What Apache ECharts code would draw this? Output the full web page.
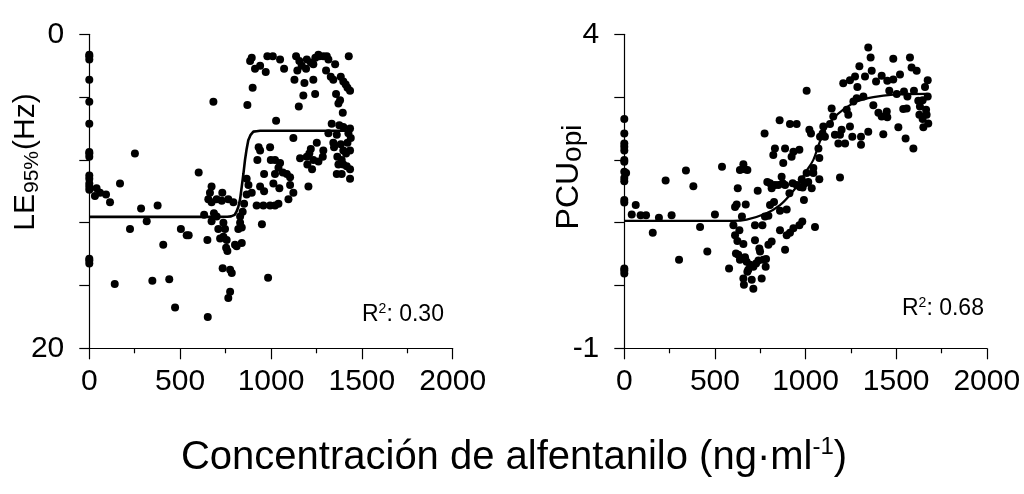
<!DOCTYPE html>
<html><head><meta charset="utf-8">
<script src="https://cdn.jsdelivr.net/npm/echarts@6/dist/echarts.min.js"></script>
<style>html,body{margin:0;padding:0;background:#fff}#c{width:1024px;height:494px}</style>
</head><body><div id="c"></div>
<script>
// ---- tick labels ----
const xTicks = [0, 500, 1000, 1500, 2000];
const leftYLabels = [0, 20];
const rightYLabels = [-1, 4];
const leftR2 = '0.30';
const rightR2 = '0.68';

// ---- left panel: LE95% (Hz) ----
const leftX = [
0,0,0,0,0,0,0,0,0,0,0,0,0,0,0,0,0,
40,31,59,92,114,169,251,140,224,285,316,376,407,347,440,472,504,536,547,602,652,650,683,
673,664,655,673,701,732,729,765,793,686,632,673,701,738,710,747,720,738,756,753,760,734,775,784,775,765,802,811,839,830,839,820,830,844,852,866,876,894,921,958,995,1022,1041,1096,1123,1105,1206,1046,1013,940,962,950,984,
894,885,912,940,971,980,1010,1050,1072,1138,1145,1156,1169,1193,1197,1219,1233,1244,1261,1266,1288,1303,1307,1316,1329,1343,1353,1384,1398,1411,1428,1435,1421,1129,1184,1233,1358,1178,1243,899,870,1153,1380,1371,1395,1028,1334,1376,1316,1362,1398,1435,1426,1439,1421,1384,1343,1347,1123,995,932,940,925,962,999,1022,1050,1041,1065,1087,1105,1160,1197,1211,1219,1252,1233,1200,1226,1261,1285,1288,1365,1389,1398,1417,1435,1435,1389,1362,1398,1435,1413,1371,866,1022
];
const leftY = [
1.3,1.4,1.6,2.9,4.3,5.7,7.5,7.6,7.8,9.0,9.2,9.5,9.7,9.9,14.3,14.4,14.6,
9.8,10.3,10.1,10.2,10.7,9.5,7.6,15.9,12.4,11.1,11.9,10.9,13.4,15.7,15.6,17.4,12.4,12.8,12.8,8.8,18.0,13.1,4.3,
9.7,10.1,10.5,10.7,10.5,10.1,10.6,10.5,10.7,11.4,11.5,11.9,11.6,12.0,12.4,12.4,13.0,12.9,13.1,13.6,13.8,14.9,15.0,15.2,16.4,16.8,13.4,13.5,13.3,11.6,12.3,12.4,12.0,11.3,10.8,10.2,9.6,10.1,10.9,10.9,10.9,10.9,10.8,10.5,10.1,9.6,9.7,9.8,9.5,9.7,10.0,12.1,15.5,
1.5,1.7,2.2,2.0,2.4,1.4,1.4,1.6,2.2,1.4,2.3,1.7,2.0,2.2,1.6,1.8,1.9,1.5,1.3,1.4,1.4,2.3,1.4,1.6,2.7,2.9,1.9,2.7,3.0,3.2,1.4,3.6,3.4,2.9,3.1,2.9,3.8,3.9,3.8,3.4,4.5,4.6,4.2,4.4,5.0,5.5,5.7,5.8,6.3,6.4,5.9,6.0,6.3,6.6,6.9,7.0,6.9,7.2,6.6,7.2,7.2,7.4,8.0,8.9,8.0,8.0,8.2,8.5,8.8,8.9,9.1,7.9,7.8,7.6,7.3,6.9,8.0,8.3,8.6,8.1,7.8,7.4,7.8,8.0,8.3,8.4,8.6,9.2,8.9,8.9,7.4,7.4,7.6,8.3,9.2,8.9
];
const leftFitX = [0, 700, 760, 780, 790, 800, 810, 820, 830, 839, 848, 857, 866, 875, 888, 903, 920, 940, 1000, 1420];
const leftFitY = [11.63, 11.63, 11.62, 11.6, 11.57, 11.5, 11.3, 11.0, 10.5, 9.7, 8.9, 8.0, 7.3, 6.75, 6.4, 6.2, 6.17, 6.14, 6.14, 6.14];

// ---- right panel: PCUopi ----
const rightX = [
0,0,0,0,0,0,0,0,10,0,0,0,0,0,0,0,
63,41,90,120,191,228,261,157,302,340,381,418,458,500,578,611,620,626,670,649,602,635,611,624,657,616,629,638,666,675,694,712,684,727,740,749,745,767,782,780,758,657,679,660,703,712,721,721,762,736,776,795,804,826,859,896,789,804,813,831,850,868,874,887,911,929,951,969,984,997,979,1006,1015,1034,1043,1076,991,982,966,933,914,896,859,813,795,887,1052,1190,657,666,679,638,539,
1346,1359,1297,1328,1365,1245,1273,1208,1286,1319,1389,1420,1451,1484,1484,1521,1576,1585,1613,1462,1503,1543,1562,1598,1622,1646,1659,1674,1674,1631,1628,1646,1668,1650,1677,1665,1539,1558,1512,1552,1595,1429,1374,1402,1420,1448,1451,1346,1306,1306,1282,1264,1227,1236,1245,1199,1190,1162,1181,1218,1258,1144,1153,1135,1098,1094,1107,1080,1071,1076,1043,1006,1021,1030,857,914,951,774,831,887,822,933,923,966,877
];
const rightY = [
2.65,2.42,2.26,2.21,2.15,2.0,1.97,1.81,1.79,1.71,1.66,1.36,1.32,0.27,0.24,0.19,
1.28,1.13,1.12,1.12,1.08,1.67,1.12,0.84,0.41,1.83,1.58,0.93,0.54,1.13,0.27,1.25,1.29,1.55,1.29,1.10,0.96,0.88,0.80,0.71,0.66,0.51,0.49,0.41,0.45,0.38,0.33,0.30,0.25,0.35,0.40,0.54,0.59,0.41,0.42,0.30,0.11,0.11,0.22,0.01,0.09,-0.05,0.72,0.96,0.96,1.51,1.10,1.11,1.28,1.33,1.19,1.21,1.65,1.63,1.55,1.60,1.60,1.73,1.63,1.60,1.47,1.63,1.60,1.57,1.56,1.63,1.69,1.79,1.65,1.55,1.79,1.69,1.36,1.02,0.96,0.91,0.84,0.80,0.88,0.70,0.65,0.57,0.93,1.72,1.93,1.85,1.84,1.84,1.89,
3.79,3.63,3.49,3.33,3.42,3.27,3.33,3.22,3.16,3.01,3.25,3.34,3.26,3.28,3.61,3.36,3.63,3.47,3.42,3.10,3.05,3.09,3.01,3.10,2.94,2.95,3.16,3.27,3.01,2.85,2.72,2.65,2.72,2.52,2.58,2.80,2.81,2.82,2.52,2.34,2.18,2.41,2.87,2.75,2.69,2.77,2.68,2.45,2.37,2.24,2.98,2.93,2.80,2.72,2.53,2.48,2.40,2.40,2.26,2.26,2.37,2.82,2.69,2.57,2.53,2.42,2.37,2.37,2.18,2.03,1.87,3.10,2.48,2.42,2.63,2.57,2.57,2.42,2.18,2.18,2.08,2.13,2.05,2.16,1.95
];
const rightFitX = [0, 600, 675, 785, 859, 914, 969, 997, 1043, 1080, 1116, 1153, 1208, 1282, 1374, 1484, 1668];
const rightFitY = [1.03, 1.03, 1.05, 1.15, 1.28, 1.44, 1.65, 1.79, 2.0, 2.3, 2.52, 2.66, 2.8, 2.93, 3.0, 3.04, 3.05];

// ---- build chart ----
const FONT = '"Liberation Sans", Arial, Helvetica, sans-serif';
const pairs = (xs, ys) => xs.map((x, i) => [x, ys[i]]);
const blk = { color: '#000', width: 1.2 };

function xAxisFor(idx) {
  return {
    gridIndex: idx, type: 'value', min: xTicks[0], max: xTicks[xTicks.length - 1],
    interval: xTicks[1] - xTicks[0],
    axisLine: { show: true, onZero: false, lineStyle: blk },
    axisTick: { show: true, length: 11, lineStyle: blk },
    minorTick: { show: true, splitNumber: 2, length: 5, lineStyle: blk },
    splitLine: { show: false }, minorSplitLine: { show: false },
    axisLabel: { fontSize: 30, color: '#000', fontFamily: FONT, margin: 18,
      formatter: v => (xTicks.indexOf(v) >= 0 ? String(v) : '') }
  };
}
function yAxisFor(idx, labels, interval, inverse) {
  return {
    gridIndex: idx, type: 'value', min: labels[0], max: labels[1], interval: interval, inverse: inverse,
    axisLine: { show: true, onZero: false, lineStyle: blk },
    axisTick: { show: true, length: 10, lineStyle: blk },
    splitLine: { show: false },
    axisLabel: {
      fontSize: 30, color: '#000', fontFamily: FONT, margin: 25, padding: [0, 0, 6, 0],
      formatter: v => (labels.indexOf(v) >= 0 ? String(v) : '')
    }
  };
}

const chart = echarts.init(document.getElementById('c'), null, { renderer: 'canvas' });
chart.setOption({
  animation: false,
  backgroundColor: '#fff',
  grid: [
    { left: 89.3, top: 34.3, width: 363.4, height: 314 },
    { left: 624.3, top: 34.3, width: 362.5, height: 314 }
  ],
  xAxis: [xAxisFor(0), xAxisFor(1)],
  yAxis: [yAxisFor(0, leftYLabels, 4, true), yAxisFor(1, rightYLabels, 1, false)],
  series: [
    { type: 'scatter', xAxisIndex: 0, yAxisIndex: 0, data: pairs(leftX, leftY), symbolSize: 8, itemStyle: { color: '#000', opacity: 1 } },
    { type: 'line', xAxisIndex: 0, yAxisIndex: 0, data: pairs(leftFitX, leftFitY), showSymbol: false, smooth: false, lineStyle: { color: '#000', width: 2.6 }, z: 3 },
    { type: 'scatter', xAxisIndex: 1, yAxisIndex: 1, data: pairs(rightX, rightY), symbolSize: 8, itemStyle: { color: '#000', opacity: 1 } },
    { type: 'line', xAxisIndex: 1, yAxisIndex: 1, data: pairs(rightFitX, rightFitY), showSymbol: false, smooth: 0.3, lineStyle: { color: '#000', width: 2.2 }, z: 3 }
  ],
  graphic: [
    { type: 'text', x: 26, y: 162, rotation: Math.PI / 2,
      style: { text: '{a|LE}{b|95%}{a|(Hz)}', align: 'center', verticalAlign: 'middle',
        rich: { a: { fontSize: 30, fontFamily: FONT, fill: '#000', lineHeight: 34 },
                b: { fontSize: 21, fontFamily: FONT, fill: '#000', verticalAlign: 'bottom', lineHeight: 34, padding: [0, 1, 0, 1] } } } },
    { type: 'text', x: 569, y: 177, rotation: Math.PI / 2,
      style: { text: '{a|PCU}{b|opi}', align: 'center', verticalAlign: 'middle',
        rich: { a: { fontSize: 32, fontFamily: FONT, fill: '#000', lineHeight: 36 },
                b: { fontSize: 28, fontFamily: FONT, fill: '#000', verticalAlign: 'bottom', lineHeight: 36 } } } },
    { type: 'text', x: 362, y: 315,
      style: { text: '{a|R}{s|2}{a|: ' + leftR2 + '}', align: 'left', verticalAlign: 'middle',
        rich: { a: { fontSize: 23, fontFamily: FONT, fill: '#000', lineHeight: 26 },
                s: { fontSize: 14, fontFamily: FONT, fill: '#000', verticalAlign: 'top', lineHeight: 26 } } } },
    { type: 'text', x: 902, y: 309,
      style: { text: '{a|R}{s|2}{a|: ' + rightR2 + '}', align: 'left', verticalAlign: 'middle',
        rich: { a: { fontSize: 23, fontFamily: FONT, fill: '#000', lineHeight: 26 },
                s: { fontSize: 14, fontFamily: FONT, fill: '#000', verticalAlign: 'top', lineHeight: 26 } } } },
    { type: 'text', x: 514, y: 458,
      style: { text: '{a|Concentración de alfentanilo (ng·ml}{s|-1}{a|)}', align: 'center', verticalAlign: 'middle',
        rich: { a: { fontSize: 40, fontFamily: FONT, fill: '#000', lineHeight: 46 },
                s: { fontSize: 24, fontFamily: FONT, fill: '#000', verticalAlign: 'top', lineHeight: 46 } } } }
  ]
});
</script></body></html>
